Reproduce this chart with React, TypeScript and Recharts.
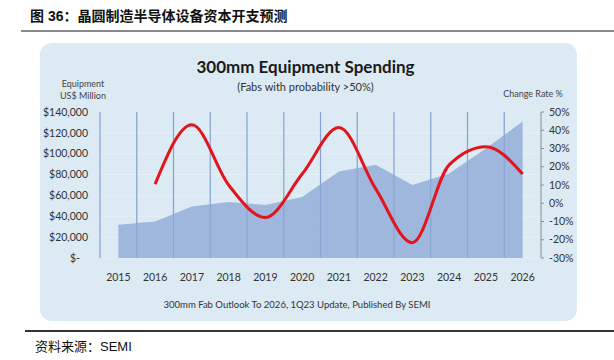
import {
  ComposedChart,
  Area,
  Line,
  XAxis,
  YAxis,
  CartesianGrid,
} from 'recharts';

const years = ['2015', '2016', '2017', '2018', '2019', '2020', '2021', '2022', '2023', '2024', '2025', '2026'];
// equipment spending, US$ million (left axis)
const spending = [32000, 35000, 49500, 53700, 50800, 58500, 83000, 89500, 70000, 81000, 105000, 131000];
// change rate % (right axis), no value for 2015
const changeRate = [null, 10.5, 43, 10, -7.8, 16, 41.5, 8, -21.6, 21, 31, 16];

const leftTicks = [0, 20000, 40000, 60000, 80000, 100000, 120000, 140000];
const rightTicks = [-30, -20, -10, 0, 10, 20, 30, 40, 50];

const data = years.map((year, i) => ({
  year,
  spending: spending[i],
  rate: changeRate[i],
}));

const FONT = 'Lato, "Open Sans", sans-serif';
const CJK = '"Liberation Sans", "Noto Sans CJK SC", sans-serif';

const fmtMoney = (v: number) => (v === 0 ? '$-\u00a0\u00a0\u00a0' : '$' + v.toLocaleString('en-US'));

export default function App() {
  return (
    <div style={{ position: 'absolute', left: 0, top: 0, width: 614, height: 360, background: '#fff', overflow: 'hidden' }}>
      <div style={{ position: 'absolute', left: 30, top: 5, fontFamily: CJK, fontWeight: 'bold', fontSize: 14, color: '#111', whiteSpace: 'nowrap' }}>
        图 36：晶圆制造半导体设备资本开支预测
      </div>
      <div style={{ position: 'absolute', left: 21, top: 30, width: 593, height: 2, background: '#8a8a8a' }} />

      <div style={{ position: 'absolute', left: 40, top: 43, width: 537, height: 278, background: '#dbeaf3', borderRadius: 12 }} />

      <div style={{ position: 'absolute', left: 0, width: 614, top: 56, textAlign: 'center', fontFamily: FONT }}>
        <div style={{ marginLeft: -3, fontWeight: 'bold', fontSize: 17, color: '#1a1a1a', lineHeight: '22px' }}>300mm Equipment Spending</div>
        <div style={{ marginLeft: -3, fontSize: 11, color: '#333', lineHeight: '14px', marginTop: 2 }}>(Fabs with probability &gt;50%)</div>
      </div>

      <div style={{ position: 'absolute', left: 43, width: 80, top: 78, textAlign: 'center', fontFamily: FONT, fontSize: 9, color: '#444', lineHeight: '12px' }}>
        Equipment
        <br />
        US$ Million
      </div>
      <div style={{ position: 'absolute', left: 493, width: 80, top: 88, textAlign: 'center', fontFamily: FONT, fontSize: 9, color: '#444', lineHeight: '12px' }}>
        Change Rate %
      </div>

      <div style={{ position: 'absolute', left: 0, top: 0 }}>
        <ComposedChart
          width={614}
          height={360}
          data={data}
          margin={{ top: 112, right: 20, bottom: 72, left: 20 }}
        >
          <CartesianGrid yAxisId="left" vertical={false} stroke="#e6f0f7" strokeWidth={1} />
          <XAxis
            dataKey="year"
            scale="band"
            axisLine={false}
            tickLine={false}
            height={30}
            tickMargin={10}
            tick={{ fontSize: 10.5, fill: '#333', fontFamily: FONT }}
            interval={0}
          />
          <YAxis
            yAxisId="left"
            width={80}
            domain={[0, 140000]}
            ticks={leftTicks}
            tickFormatter={fmtMoney}
            axisLine={false}
            tickLine={false}
            tickMargin={6}
            tick={{ fontSize: 10.5, fill: '#333', fontFamily: FONT }}
            interval={0}
          />
          <YAxis
            yAxisId="right"
            orientation="right"
            width={53}
            domain={[-30, 50]}
            ticks={rightTicks}
            tickFormatter={(v: number) => v + '%'}
            axisLine={{ stroke: '#8c8c8c' }}
            tickLine={{ stroke: '#8c8c8c' }}
            tickSize={3}
            tickMargin={5}
            tick={{ fontSize: 10.5, fill: '#333', fontFamily: FONT }}
            interval={0}
          />
          <Area
            yAxisId="left"
            dataKey="spending"
            type="linear"
            stroke="none"
            fill="#8ba5d6"
            fillOpacity={0.75}
            isAnimationActive={false}
          />
          <CartesianGrid
            yAxisId="left"
            horizontal={false}
            stroke="#6e8ecb"
            strokeOpacity={0.8}
            strokeWidth={1.2}
            verticalCoordinatesGenerator={({ offset }: any) =>
              years.map((_, k) => offset.left + (k * offset.width) / years.length)
            }
          />
          <Line
            yAxisId="right"
            dataKey="rate"
            type="monotone"
            stroke="#e3141b"
            strokeWidth={3}
            dot={false}
            connectNulls={false}
            isAnimationActive={false}
          />
        </ComposedChart>
      </div>

      <div style={{ position: 'absolute', left: 0, width: 594, top: 299, textAlign: 'center', fontFamily: FONT, fontSize: 9.5, color: '#333' }}>
        300mm Fab Outlook To 2026, 1Q23 Update, Published By SEMI
      </div>

      <div style={{ position: 'absolute', left: 25, top: 330, width: 589, height: 1.5, background: '#333' }} />
      <div style={{ position: 'absolute', left: 35, top: 336, fontFamily: CJK, fontSize: 13, color: '#111', whiteSpace: 'nowrap' }}>
        资料来源：SEMI
      </div>
    </div>
  );
}
